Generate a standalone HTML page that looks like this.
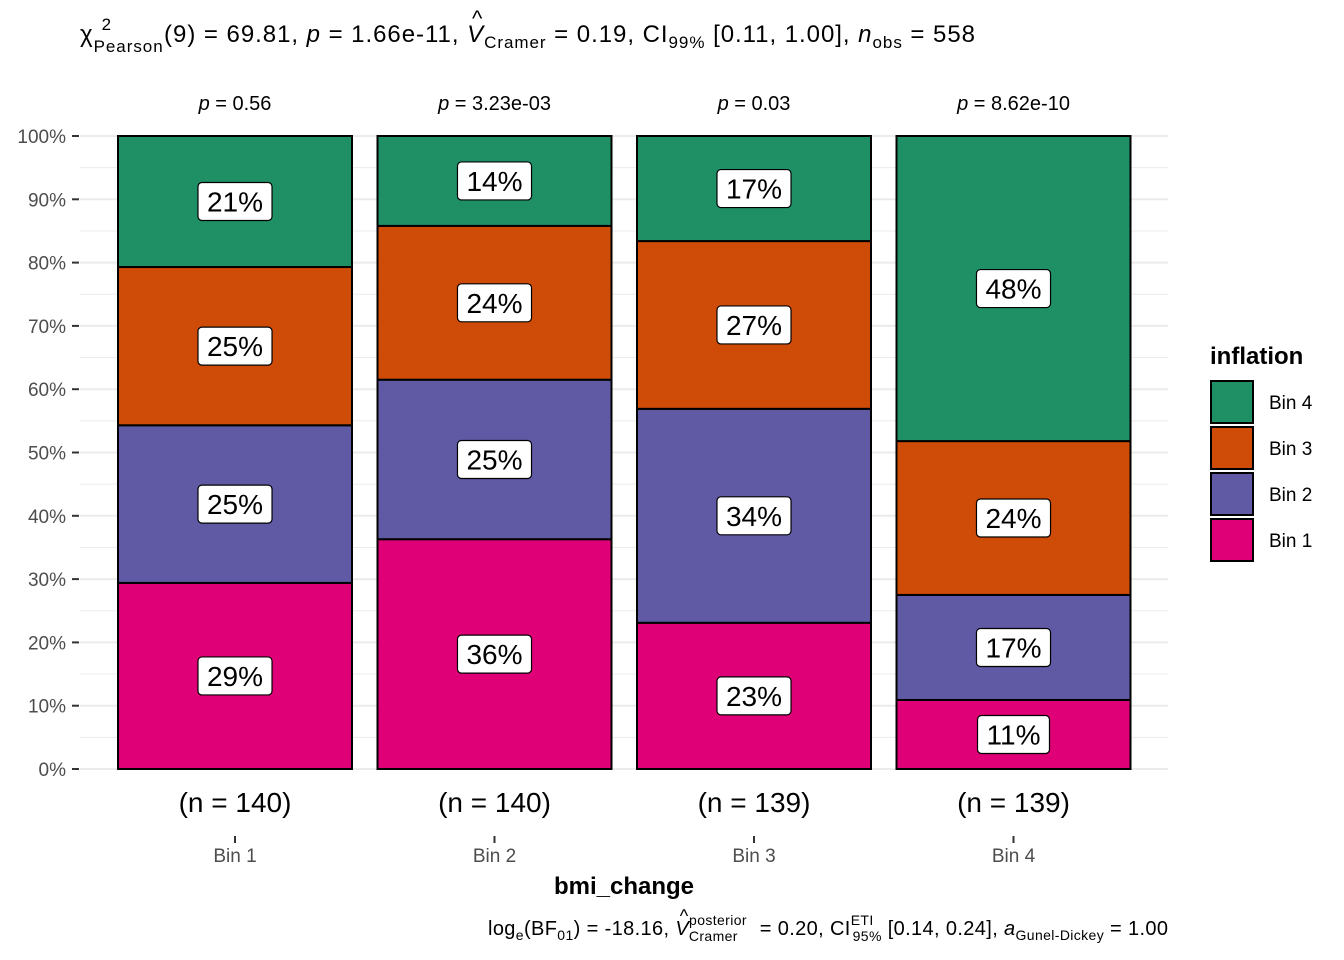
<!DOCTYPE html>
<html><head><meta charset="utf-8"><style>
body{margin:0;background:#fff;font-family:"Liberation Sans",sans-serif;}
svg{display:block}
</style></head><body>
<svg id="chart" width="1344" height="960" xmlns="http://www.w3.org/2000/svg" font-family="Liberation Sans, sans-serif">
<text id="title" x="80" y="42" font-size="24" fill="#000" textLength="895" lengthAdjust="spacing">χ<tspan font-size="17" dy="10">Pearson</tspan><tspan font-size="17" dx="-62" dy="-22">2</tspan><tspan dx="52" dy="12">(9) = 69.81, </tspan><tspan font-style="italic">p</tspan><tspan> = 1.66e-11, </tspan><tspan id="tv" font-style="italic">V</tspan><tspan font-size="17" dy="6">Cramer</tspan><tspan dy="-6"> = 0.19, CI</tspan><tspan font-size="17" dy="6">99%</tspan><tspan dy="-6"> [0.11, 1.00], </tspan><tspan font-style="italic">n</tspan><tspan font-size="17" dy="6">obs</tspan><tspan dy="-6"> = 558</tspan></text>
<text id="hat1" x="467" y="26" font-size="22" text-anchor="middle">^</text>
<g id="grid"></g><g id="bars"></g><g id="axes"></g>
<text x="624" y="894" font-size="24" font-weight="bold" text-anchor="middle">bmi_change</text>
<text id="cap" x="488" y="935" font-size="20" textLength="680" lengthAdjust="spacing">log<tspan font-size="14" dy="5">e</tspan><tspan dy="-5">(BF</tspan><tspan font-size="14" dy="5">01</tspan><tspan dy="-5">) = -18.16, </tspan><tspan id="cv" font-style="italic">V</tspan><tspan font-size="14" dy="-10">posterior</tspan><tspan font-size="14" dx="-58" dy="16">Cramer</tspan><tspan dx="16" dy="-6"> = 0.20, CI</tspan><tspan font-size="14" dy="-10">ETI</tspan><tspan font-size="14" dx="-21" dy="16">95%</tspan><tspan dy="-6"> [0.14, 0.24], </tspan><tspan font-style="italic">a</tspan><tspan font-size="14" dy="5">Gunel-Dickey</tspan><tspan dy="-5"> = 1.00</tspan></text>
<text id="hat2" x="690" y="922" font-size="18" text-anchor="middle">^</text>
<text x="1210" y="364" font-size="24" font-weight="bold">inflation</text>
<g id="legend"></g>
</svg>
<script>
const categories=["Bin 1","Bin 2","Bin 3","Bin 4"];
const counts=[140,140,139,139];
const pvals=["0.56","3.23e-03","0.03","8.62e-10"];
const seriesNames=["Bin 1","Bin 2","Bin 3","Bin 4"];
const bin1=[29.4,36.3,23.1,10.9];
const bin2=[24.9,25.2,33.8,16.6];
const bin3=[25.0,24.3,26.5,24.3];
const bin4=[20.7,14.2,16.6,48.2];
const yTicks=[0,10,20,30,40,50,60,70,80,90,100];
const fills=["#DF0077","#605AA5","#CE4C08","#1F9066"];
const series=[bin1,bin2,bin3,bin4];
const NS="http://www.w3.org/2000/svg";
const y=v=>769-v*6.33;
const xc=i=>235+i*259.5;
const bw=234;
function mk(t,a,p){const e=document.createElementNS(NS,t);for(const k in a)e.setAttribute(k,a[k]);p.appendChild(e);return e;}
const grid=document.getElementById('grid'),bars=document.getElementById('bars'),axes=document.getElementById('axes'),legend=document.getElementById('legend');
for(let v=0;v<=100;v+=5){const l=mk('line',{x1:80,x2:1168,y1:y(v),y2:y(v),stroke:'#ebebeb','stroke-width':v%10?1:2},grid);

}
yTicks.forEach(v=>{const t=mk('text',{x:66,y:y(v)+7,'font-size':19,'text-anchor':'end',fill:'#4d4d4d'},axes);t.textContent=v+'%';


const tk=mk('line',{x1:72,x2:79,y1:y(v),y2:y(v),stroke:'#333','stroke-width':2},axes);

});
categories.forEach((c,i)=>{let cum=0;const cx=xc(i);
series.forEach((s,j)=>{const v=s[i];const r=mk('rect',{x:cx-bw/2,y:y(cum+v),width:bw,height:v*6.33,fill:fills[j],stroke:'#000','stroke-width':2},bars);


const my=y(cum+v/2);const txt=Math.round(v)+'%';
const b=mk('rect',{x:cx-38,y:my-19,width:76,height:38,rx:4,fill:'#fff',stroke:'#000','stroke-width':1.2},bars);


const t=mk('text',{x:cx,y:my+10,'font-size':28,'text-anchor':'middle'},bars);t.textContent=txt;


const w=t.getComputedTextLength()+18;b.setAttribute('x',cx-w/2);b.setAttribute('width',w);
cum+=v;});
const n=mk('text',{x:cx,y:812,'font-size':28,'text-anchor':'middle'},axes);n.textContent='(n = '+counts[i]+')';


const p=mk('text',{x:cx,y:110,'font-size':20,'text-anchor':'middle'},axes);p.innerHTML='<tspan font-style="italic">p</tspan> = '+pvals[i];


const tk=mk('line',{x1:cx,x2:cx,y1:836,y2:843,stroke:'#333','stroke-width':2},axes);


const xl=mk('text',{x:cx,y:862,'font-size':19,'text-anchor':'middle',fill:'#4d4d4d'},axes);xl.textContent=c;

});
for(let j=3;j>=0;j--){const k=3-j;const r=mk('rect',{x:1211,y:381+k*46,width:42,height:42,fill:fills[j],stroke:'#000','stroke-width':2},legend);


const t=mk('text',{x:1269,y:409+k*46,'font-size':19},legend);t.textContent=seriesNames[j];

}
function placeHat(textId,tspanId,hatId){try{const T=document.getElementById(textId);const tv=document.getElementById(tspanId);
let idx=0;for(const nd of T.childNodes){if(nd===tv)break;idx+=nd.textContent.length;}
const p=T.getStartPositionOfChar(idx);const e=T.getEndPositionOfChar(idx);
document.getElementById(hatId).setAttribute('x',(p.x+e.x)/2+2);}catch(err){}}
placeHat('title','tv','hat1');
placeHat('cap','cv','hat2');
</script>
</body></html>
